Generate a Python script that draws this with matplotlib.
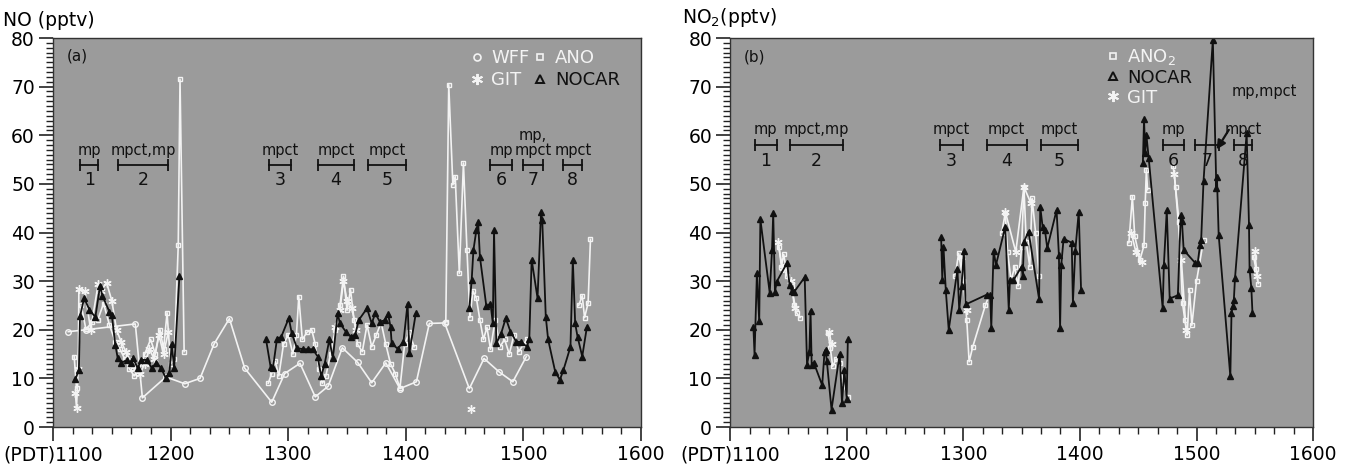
import numpy as np
import matplotlib
matplotlib.use('Agg')
import matplotlib.pyplot as plt
from matplotlib.lines import Line2D
from matplotlib.ticker import MultipleLocator

nan = np.nan

def joined(*parts):
    # glue segments together with nan so the line breaks between them
    out = []
    for p in parts:
        out += list(p) + [nan]
    return np.array(out[:-1])

# ---------------- panel (a): NO (pptv), time in hours PDT ----------------
a_nocar_t = joined(
    [11.19, 11.22, 11.23, 11.265, 11.31, 11.36, 11.40, 11.42, 11.48, 11.50, 11.53, 11.55, 11.58, 11.63,
     11.66, 11.68, 11.72, 11.75, 11.80, 11.84, 11.88, 11.92, 11.96, 11.99, 12.01, 12.03, 12.075],
    [12.81, 12.85, 12.87, 12.905, 12.94, 13.005, 13.03, 13.075, 13.13, 13.17, 13.21, 13.25, 13.28, 13.31,
     13.35, 13.38, 13.42, 13.44, 13.49, 13.53, 13.57, 13.60, 13.67, 13.71, 13.74, 13.78, 13.82, 13.85,
     13.87, 13.88, 13.93, 13.98, 14.015, 14.03, 14.085],
    [14.54, 14.56, 14.575, 14.60, 14.615, 14.63, 14.685, 14.72, 14.74, 14.75, 14.77, 14.81, 14.85, 14.89,
     14.94, 14.98, 15.03, 15.05, 15.07, 15.12, 15.15, 15.16, 15.19, 15.21, 15.27, 15.31, 15.34, 15.40,
     15.42, 15.44, 15.46, 15.50, 15.54])
a_nocar_v = joined(
    [9.8, 11.7, 22.8, 26.5, 24.1, 22.6, 29.0, 27.0, 23.7, 23.0, 16.9, 14.2, 13.2, 13.8,
     13.2, 14.2, 12.1, 13.8, 13.8, 12.1, 13.2, 12.1, 10.0, 11.2, 17.0, 12.1, 31.0],
    [18.2, 12.4, 12.1, 18.2, 18.5, 22.4, 19.3, 16.2, 16.0, 16.0, 16.0, 14.5, 10.4, 13.0,
     18.0, 14.1, 23.4, 21.3, 19.6, 18.6, 19.0, 22.0, 24.4, 21.3, 23.4, 21.6, 22.0, 23.2,
     20.6, 17.2, 16.1, 17.5, 25.4, 15.2, 23.4],
    [24.4, 30.2, 36.4, 40.5, 42.2, 35.0, 24.8, 25.4, 21.3, 40.5, 17.2, 19.2, 22.4, 19.6,
     17.5, 17.5, 16.5, 18.2, 34.4, 26.5, 44.3, 42.6, 22.7, 18.0, 11.4, 9.7, 11.7, 16.5,
     34.4, 21.3, 18.6, 14.5, 20.6])

a_wff_t = [11.13, 11.28, 11.70, 11.76, 11.96, 12.12, 12.25, 12.37, 12.50, 12.63, 12.86, 12.97, 13.10, 13.23,
           13.34, 13.46, 13.59, 13.71, 13.83, 13.95, 14.09, 14.20, 14.33, 14.54, 14.665, 14.79, 14.91, 15.025]
a_wff_v = [19.6, 20.0, 21.2, 6.0, 10.3, 8.9, 10.0, 17.1, 22.3, 12.1, 5.1, 11.0, 13.1, 6.2,
           8.4, 16.3, 13.3, 9.1, 13.2, 7.9, 9.3, 21.3, 21.4, 7.9, 14.1, 11.4, 9.3, 14.5]

a_ano_t = joined(
    [11.18, 11.20, 11.24, 11.28, 11.33, 11.38, 11.43, 11.48, 11.53, 11.57, 11.61, 11.65, 11.69, 11.73,
     11.78, 11.83, 11.87, 11.91, 11.94, 11.97, 12.00, 12.03, 12.065, 12.08, 12.115],
    [12.83, 12.86, 12.89, 12.92, 12.96, 13.00, 13.04, 13.07, 13.09, 13.12, 13.16, 13.20, 13.23, 13.26,
     13.29, 13.32, 13.36, 13.40, 13.44, 13.47, 13.50, 13.53, 13.56, 13.59, 13.63, 13.67, 13.71, 13.75,
     13.79, 13.83, 13.87, 13.91, 13.95, 13.99, 14.03, 14.07],
    [14.34, 14.365, 14.40, 14.42, 14.455, 14.49, 14.52, 14.545, 14.57, 14.60, 14.63, 14.66, 14.69, 14.72,
     14.76, 14.80, 14.84, 14.88, 14.92, 14.96, 15.00, 15.03],
    [15.47, 15.50, 15.52, 15.55, 15.57])
a_ano_v = joined(
    [14.5, 8.0, 25.0, 20.1, 21.5, 22.0, 25.4, 21.0, 17.5, 16.0, 14.0, 12.0, 10.5, 11.5,
     15.0, 18.0, 15.0, 20.0, 16.0, 23.5, 13.0, 14.0, 37.4, 71.5, 15.5],
    [9.0, 11.0, 13.5, 10.5, 17.0, 19.0, 15.0, 19.0, 26.8, 18.0, 19.5, 20.0, 17.0, 12.0,
     9.0, 10.5, 15.0, 20.0, 25.0, 31.0, 24.0, 28.2, 22.0, 17.0, 15.5, 21.0, 16.5, 19.0,
     21.5, 17.0, 13.0, 11.0, 8.0, 17.0, 19.5, 16.5],
    [21.5, 70.4, 49.8, 51.5, 31.6, 54.3, 36.4, 22.5, 28.0, 26.5, 22.0, 18.0, 20.5, 16.0,
     22.0, 16.5, 18.0, 15.0, 19.0, 15.5, 17.0, 18.0],
    [25.0, 27.0, 22.5, 25.5, 38.6])

a_git_t = joined(
    [11.19, 11.20, 11.215, 11.22, 11.27, 11.32, 11.385, 11.41, 11.455, 11.50, 11.54, 11.58, 11.62, 11.66,
     11.70, 11.74, 11.78, 11.82, 11.86, 11.90, 11.94, 11.98],
    [13.40, 13.44, 13.47, 13.50, 13.54, 13.58],
    [14.555])
a_git_v = joined(
    [7.0, 4.0, 12.0, 28.3, 28.0, 20.0, 29.5, 28.0, 29.7, 26.0, 20.0, 17.5, 15.5, 13.5,
     12.0, 11.0, 13.0, 16.0, 14.0, 19.0, 15.0, 19.5],
    [20.5, 24.0, 30.0, 26.0, 24.5, 20.0],
    [3.8])

# ---------------- panel (b): NO2 (pptv) ----------------
b_nocar_t = joined(
    [11.20, 11.21, 11.23, 11.25, 11.26, 11.34, 11.36, 11.37, 11.385, 11.40, 11.49, 11.51, 11.53, 11.55,
     11.64, 11.66, 11.68, 11.69, 11.70, 11.72, 11.79, 11.81, 11.82, 11.83, 11.87, 11.94, 11.96, 11.98,
     12.00, 12.01],
    [12.81, 12.82, 12.83, 12.85, 12.875, 12.95, 12.965, 12.985, 13.005, 13.02, 13.20, 13.23, 13.24, 13.26,
     13.28, 13.36, 13.39, 13.40, 13.43, 13.50, 13.51, 13.52, 13.56, 13.65, 13.66, 13.68, 13.70, 13.72,
     13.80, 13.82, 13.83, 13.84, 13.86, 13.93, 13.94, 13.96, 13.99, 14.01],
    [14.54, 14.55, 14.56, 14.57, 14.59, 14.71, 14.72, 14.745, 14.77, 14.84, 14.865, 14.875, 14.89, 14.99,
     15.01, 15.03, 15.04, 15.06, 15.14, 15.17, 15.175, 15.19, 15.29, 15.30, 15.31, 15.32, 15.33, 15.43,
     15.45, 15.455, 15.47, 15.48])
b_nocar_v = joined(
    [20.6, 14.8, 31.6, 21.7, 42.7, 27.6, 36.5, 44.0, 27.8, 29.9, 33.8, 29.2, 28.0, 27.8,
     30.8, 12.8, 15.5, 23.9, 12.8, 13.1, 8.6, 15.4, 15.9, 13.5, 3.6, 15.0, 4.9, 11.8,
     5.8, 18.0],
    [39.0, 30.2, 37.1, 28.1, 20.0, 32.4, 24.1, 29.0, 36.1, 25.2, 27.2, 27.2, 20.4, 36.3,
     33.3, 41.2, 24.1, 30.2, 30.2, 33.0, 31.0, 38.1, 40.2, 26.3, 45.3, 41.2, 40.5, 36.8,
     44.6, 35.3, 20.3, 33.3, 38.7, 37.9, 25.5, 36.1, 44.3, 28.2],
    [54.3, 63.3, 56.3, 60.1, 55.3, 24.4, 33.3, 44.6, 26.4, 27.1, 43.6, 42.3, 36.4, 33.7,
     33.7, 37.4, 38.5, 50.5, 79.6, 49.1, 51.5, 39.5, 10.4, 23.4, 24.8, 26.1, 30.6, 60.4,
     41.6, 32.5, 28.6, 23.4])

b_ano2_t = joined(
    [11.42, 11.44, 11.46, 11.49, 11.53, 11.55, 11.57, 11.60],
    [11.84, 11.86, 11.88, 11.91, 11.94, 11.97, 12.01],
    [12.93, 12.96, 13.00, 13.03, 13.05, 13.08, 13.19, 13.22],
    [13.33, 13.36, 13.38, 13.41, 13.44, 13.47, 13.50, 13.52, 13.54, 13.57, 13.59, 13.62, 13.65],
    [14.42, 14.45, 14.47, 14.515, 14.55, 14.56, 14.57, 14.58],
    [14.80, 14.82, 14.85, 14.88, 14.90, 14.92, 14.94, 14.96, 15.00, 15.06],
    [15.49, 15.51, 15.53])
b_ano2_v = joined(
    [37.0, 33.0, 35.5, 31.0, 29.0, 25.0, 23.5, 22.5],
    [19.4, 16.2, 12.5, 14.0, 13.2, 9.0, 6.2],
    [31.0, 35.7, 30.0, 22.0, 13.4, 16.4, 25.1, 27.0],
    [40.0, 44.0, 36.0, 30.0, 33.0, 29.0, 37.0, 49.4, 38.0, 33.0, 47.0, 40.0, 31.0],
    [37.9, 47.4, 39.3, 34.4, 37.4, 46.0, 52.9, 48.8],
    [53.6, 49.4, 42.2, 25.5, 22.0, 18.9, 28.2, 20.9, 30.0, 38.4],
    [35.0, 32.4, 29.5])

b_git_t = joined(
    [11.41, 11.45, 11.52, 11.56],
    [11.85, 11.87],
    [12.98, 13.03],
    [13.36, 13.45, 13.52, 13.58],
    [14.44, 14.48, 14.53],
    [14.81, 14.87, 14.91],
    [15.50, 15.52])
b_git_v = joined(
    [38.0, 32.7, 30.0, 24.5],
    [19.5, 17.0],
    [35.0, 24.0],
    [44.3, 36.0, 49.4, 46.0],
    [40.0, 36.0, 34.0],
    [52.0, 34.4, 20.0],
    [36.1, 31.0])

# flight-leg brackets (start, end) and their labels
a_legs = [(11.23, 11.385), (11.555, 11.98), (12.84, 13.02), (13.25, 13.56),
          (13.68, 14.0), (14.72, 14.905), (14.995, 15.165), (15.34, 15.50)]
a_leg_txt = ["mp", "mpct,mp", "mpct", "mpct", "mpct", "mp", "mp,\nmpct", "mpct"]
b_legs = [(11.21, 11.40), (11.51, 11.97), (12.80, 13.0), (13.20, 13.545),
          (13.665, 13.98), (14.71, 14.89), (14.99, 15.19), (15.32, 15.48)]
b_leg_txt = ["mp", "mpct,mp", "mpct", "mpct", "mpct", "mp", "", "mpct"]

hours = [11, 12, 13, 14, 15, 16]
hour_labels = ["(PDT)1100", "1200", "1300", "1400", "1500", "1600"]

BG = '#9b9b9b'
WH = '#f3f3f3'
BK = '#111111'
FS = 13.5

fig = plt.figure(figsize=(13.45, 4.71), dpi=100)
ax1 = fig.add_axes([0.0394, 0.0934, 0.4372, 0.8259])
ax2 = fig.add_axes([0.5428, 0.0934, 0.4335, 0.8259])

def style(ax):
    ax.set_facecolor(BG)
    ax.set_xlim(11, 16)
    ax.set_ylim(0, 80)
    ax.set_xticks(hours)
    ax.set_xticklabels(hour_labels)
    ax.xaxis.set_minor_locator(MultipleLocator(1 / 6))
    ax.yaxis.set_major_locator(MultipleLocator(10))
    ax.yaxis.set_minor_locator(MultipleLocator(1))
    ax.tick_params(which='major', direction='out', length=10, width=1.2, labelsize=FS, pad=3, color='#222')
    ax.tick_params(which='minor', direction='out', length=5, width=1, color='#222')
    for s in ax.spines.values():
        s.set_color('#333')
        s.set_linewidth(1.0)

def legs(ax, spans, texts, y, ytxt, ynum):
    for i, ((a, b), t) in enumerate(zip(spans, texts)):
        ax.plot([a, b], [y, y], color=BK, lw=1.3, marker='|', ms=9, mew=1.3)
        ax.text((a + b) / 2, ytxt, t, ha='center', va='bottom', fontsize=10.5, color=BK,
                linespacing=0.95)
        ax.text((a + b) / 2, ynum, str(i + 1), ha='center', va='top', fontsize=12.5, color=BK)

white = dict(color=WH, lw=1.2, mew=1.0)

# panel (a)
style(ax1)
ax1.plot(a_wff_t, a_wff_v, marker='o', ms=4, mfc='none', mec=WH, **white)
ax1.plot(a_ano_t, a_ano_v, marker='s', ms=3.5, mfc='none', mec=WH, **white)
ax1.plot(a_git_t, a_git_v, marker=(6, 2, 0), ms=6, mec=WH, **white)
ax1.plot(a_nocar_t, a_nocar_v, color=BK, lw=1.3, marker='^', ms=5, mfc=BK, mec=BK)
legs(ax1, a_legs, a_leg_txt, 53.9, 55.4, 52.6)
ax1.text(0.024, 0.955, "(a)", transform=ax1.transAxes, fontsize=11, color=BK, va='center')

h_wff = Line2D([], [], ls='none', marker='o', ms=5, mfc='none', mec=WH, mew=1.2)
h_ano = Line2D([], [], ls='none', marker='s', ms=5, mfc='none', mec=WH, mew=1.2)
h_git = Line2D([], [], ls='none', marker=(6, 2, 0), ms=8, mec=WH, mew=1.4)
h_noc = Line2D([], [], ls='none', marker='^', ms=6, mfc='none', mec=BK, mew=1.4)
lg = ax1.legend([h_wff, h_git, h_ano, h_noc], ["WFF", "GIT", "ANO", "NOCAR"], ncol=2,
                loc='upper left', bbox_to_anchor=(0.69, 1.0), frameon=False, fontsize=13,
                handlelength=0.8, handletextpad=0.4, columnspacing=0.2, labelspacing=0.25,
                borderaxespad=0.2)
for txt, c in zip(lg.get_texts(), [WH, WH, WH, BK]):
    txt.set_color(c)

# panel (b)
style(ax2)
ax2.plot(b_ano2_t, b_ano2_v, marker='s', ms=3.5, mfc='none', mec=WH, **white)
ax2.plot(b_git_t, b_git_v, marker=(6, 2, 0), ms=6, mec=WH, **white)
ax2.plot(b_nocar_t, b_nocar_v, color=BK, lw=1.3, marker='^', ms=5, mfc=BK, mec=BK)
legs(ax2, b_legs, b_leg_txt, 58.0, 59.6, 56.6)
ax2.text(0.024, 0.95, "(b)", transform=ax2.transAxes, fontsize=11, color=BK, va='center')
ax2.text(15.58, 69, "mp,mpct", ha='center', va='center', fontsize=10.5, color=BK)
ax2.annotate("", xy=(15.16, 56.6), xytext=(15.29, 61.6),
             arrowprops=dict(arrowstyle='-|>', color=BK, lw=1.6, mutation_scale=13))

lg2 = ax2.legend([h_ano, h_noc, h_git], ["ANO$_2$", "NOCAR", "GIT"], loc='upper left',
                 bbox_to_anchor=(0.625, 1.005), frameon=False, fontsize=13,
                 handlelength=0.8, handletextpad=0.4, labelspacing=0.1, borderaxespad=0.2)
for txt, c in zip(lg2.get_texts(), [WH, BK, WH]):
    txt.set_color(c)

fig.text(0.002, 0.957, "NO (pptv)", fontsize=FS, va='center', ha='left')
fig.text(0.507, 0.962, "NO$_2$(pptv)", fontsize=FS, va='center', ha='left')

fig.savefig("out.png", dpi=100, facecolor='white')
